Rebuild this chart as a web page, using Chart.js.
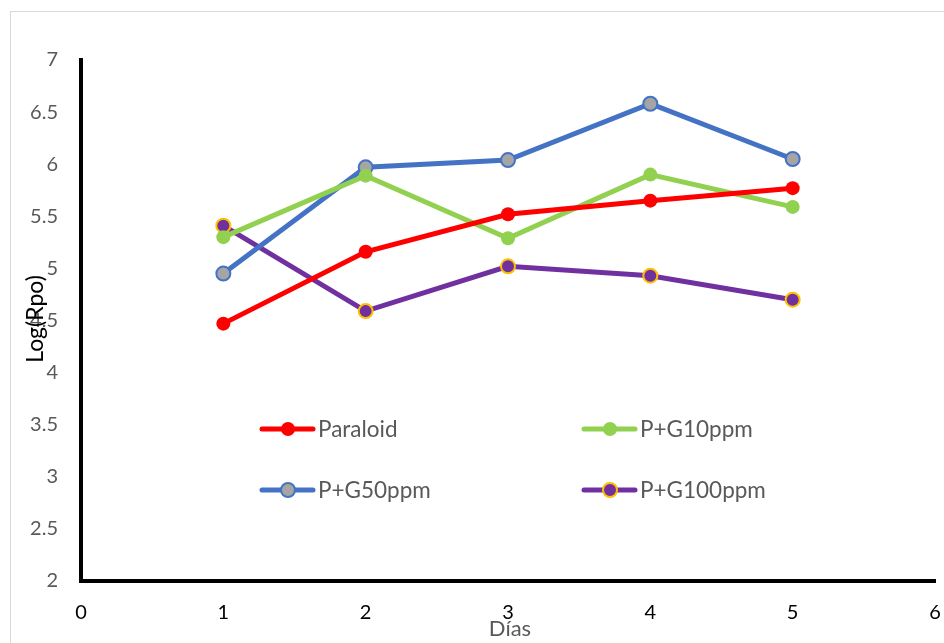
<!DOCTYPE html>
<html>
<head>
<meta charset="utf-8">
<script src="https://cdn.jsdelivr.net/npm/chart.js@4/dist/chart.umd.min.js"></script>
<style>
  html, body { margin: 0; padding: 0; background: #fff; }
  #wrap { position: relative; width: 944px; height: 643px; overflow: hidden; }
  #frame { position: absolute; left: 10px; top: 11px; width: 960px; height: 660px; border: 1px solid #d9d9d9; box-sizing: border-box; }
  canvas { position: absolute; left: 0; top: 0; }
</style>
</head>
<body>
<div id="wrap">
  <div id="frame"></div>
  <canvas id="c" width="944" height="643"></canvas>
</div>
<script>
// Days on the x axis
const dias = [1, 2, 3, 4, 5];

// Log(Rpo) for each coating
const paraloid    = [4.47, 5.16, 5.52, 5.65, 5.77];
const pg10ppm     = [5.30, 5.89, 5.29, 5.90, 5.59];
const pg50ppm     = [4.95, 5.97, 6.04, 6.58, 6.05];
const pg100ppm    = [5.41, 4.59, 5.02, 4.93, 4.70];

const seriesNames = ['Paraloid', 'P+G10ppm', 'P+G50ppm', 'P+G100ppm'];

const xTicks = [0, 1, 2, 3, 4, 5, 6];
const yMin = 2, yMax = 7, yStep = 0.5;

const FONT = 'Lato, "Open Sans", sans-serif';

function pts(vals) { return dias.map((d, i) => ({ x: d, y: vals[i] })); }

const styles = [
  { line: '#FF0000', fill: '#FF0000', edge: '#FF0000', bw: 0 },
  { line: '#92D050', fill: '#92D050', edge: '#92D050', bw: 0 },
  { line: '#4472C4', fill: '#A5A5A5', edge: '#4472C4', bw: 2 },
  { line: '#7030A0', fill: '#7030A0', edge: '#FFC000', bw: 2 }
];
const values = [paraloid, pg10ppm, pg50ppm, pg100ppm];

const datasets = values.map((v, i) => ({
  label: seriesNames[i],
  data: pts(v),
  borderColor: styles[i].line,
  borderWidth: 5,
  pointRadius: 7,
  pointBackgroundColor: styles[i].fill,
  pointBorderColor: styles[i].edge,
  pointBorderWidth: styles[i].bw,
  tension: 0,
  fill: false
}));

// Legend inside the plot area, two columns, plus the axis titles
const innerLegend = {
  id: 'innerLegend',
  afterDraw(chart) {
    const ctx = chart.ctx;
    const spots = [
      { x: 262, y: 429 }, { x: 584, y: 429 },
      { x: 262, y: 490 }, { x: 584, y: 490 }
    ];
    ctx.save();
    chart.data.datasets.forEach((ds, i) => {
      const s = spots[i];
      ctx.strokeStyle = ds.borderColor;
      ctx.lineWidth = 5;
      ctx.lineCap = 'round';
      ctx.beginPath();
      ctx.moveTo(s.x, s.y);
      ctx.lineTo(s.x + 51, s.y);
      ctx.stroke();
      ctx.beginPath();
      ctx.arc(s.x + 26, s.y, 7, 0, Math.PI * 2);
      ctx.fillStyle = ds.pointBackgroundColor;
      ctx.fill();
      if (ds.pointBorderWidth > 0) {
        ctx.lineWidth = ds.pointBorderWidth;
        ctx.strokeStyle = ds.pointBorderColor;
        ctx.stroke();
      }
      ctx.fillStyle = '#595959';
      ctx.font = '22.5px ' + FONT;
      ctx.textBaseline = 'middle';
      ctx.textAlign = 'left';
      ctx.fillText(ds.label, s.x + 56, s.y + 1);
    });

    ctx.fillStyle = '#000';
    ctx.font = '23px ' + FONT;
    ctx.textAlign = 'center';
    ctx.textBaseline = 'middle';
    ctx.save();
    ctx.translate(36, 319);
    ctx.rotate(-Math.PI / 2);
    ctx.fillText('Log(Rpo)', 0, 0);
    ctx.restore();

    ctx.fillStyle = '#595959';
    ctx.font = '22px ' + FONT;
    ctx.fillText('Días', 510, 629);
    ctx.restore();
  }
};

new Chart(document.getElementById('c'), {
  type: 'line',
  data: { datasets },
  options: {
    responsive: false,
    animation: false,
    events: [],
    layout: { padding: { left: 0, top: 60, right: 7, bottom: 0 } },
    plugins: { legend: { display: false }, tooltip: { enabled: false } },
    scales: {
      x: {
        type: 'linear',
        min: xTicks[0],
        max: xTicks[xTicks.length - 1],
        afterBuildTicks(scale) { scale.ticks = xTicks.map(v => ({ value: v })); },
        afterFit(scale) { scale.height = 62; scale.paddingLeft = 0; scale.paddingRight = 0; },
        grid: { display: false, drawTicks: false },
        border: { display: true, color: '#000', width: 4 },
        ticks: { color: '#000', font: { family: FONT, size: 20 }, padding: 20 }
      },
      y: {
        type: 'linear',
        min: yMin,
        max: yMax,
        afterFit(scale) { scale.width = 81; scale.paddingTop = 0; scale.paddingBottom = 0; },
        grid: { display: false, drawTicks: false },
        border: { display: true, color: '#000', width: 4 },
        ticks: {
          stepSize: yStep,
          color: '#595959',
          font: { family: FONT, size: 20 },
          padding: 23,
          callback: v => String(v)
        }
      }
    }
  },
  plugins: [innerLegend]
});
</script>
</body>
</html>
